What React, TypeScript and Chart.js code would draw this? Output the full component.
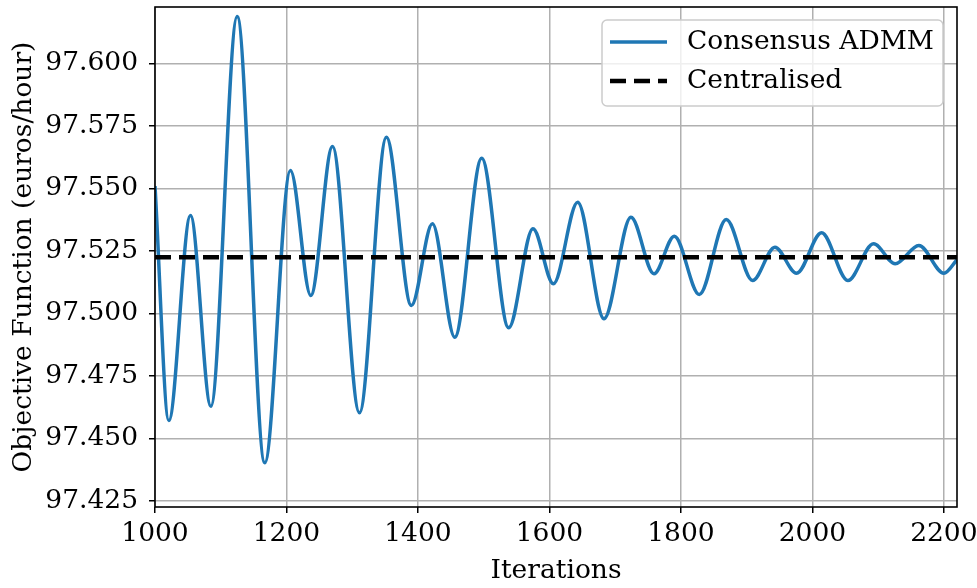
import React, { useEffect, useRef } from "react";
import { Chart, registerables } from "chart.js";

Chart.register(...registerables);

// ---- data ----
const iterations = [
  1000, 1021, 1054, 1085, 1125, 1167, 1206, 1237, 1270, 1311, 1352, 1390,
  1422, 1456, 1497, 1538, 1575, 1606, 1643, 1683, 1724, 1759, 1790, 1828,
  1869, 1909, 1943, 1976, 2014, 2054, 2093, 2126, 2162, 2200, 2220,
];
const admmValues = [
  97.551, 97.4572, 97.5392, 97.4629, 97.6188, 97.4403, 97.5572, 97.5072,
  97.5668, 97.4603, 97.5705, 97.5032, 97.5359, 97.4905, 97.5621, 97.4943,
  97.5339, 97.5119, 97.5445, 97.4979, 97.5385, 97.5159, 97.5309, 97.5076,
  97.5376, 97.5132, 97.5265, 97.5161, 97.5323, 97.5132, 97.5279, 97.5199,
  97.5272, 97.5161, 97.5215,
];
const centralisedX = [1000, 2220];
const centralisedValues = [97.5225, 97.5225];

const xTicks = [1000, 1200, 1400, 1600, 1800, 2000, 2200];
const yTicks = [97.425, 97.45, 97.475, 97.5, 97.525, 97.55, 97.575, 97.6];
const xMin = 1000;
const xMax = 2220;
const yMin = 97.4226;
const yMax = 97.6226;

const seriesLabels = ["Consensus ADMM", "Centralised"];
const xTitle = "Iterations";
const yTitle = "Objective Function (euros/hour)";

const FONT = "'DejaVu Serif'";
const FS = 26.5;
const BLUE = "#1f77b4";
const GRID = "#b0b0b0";

export default function App() {
  const ref = useRef<HTMLCanvasElement>(null);

  useEffect(() => {
    const canvas = ref.current;
    if (!canvas) return;

    const frame = {
      id: "frame",
      afterDatasetsDraw(chart: any) {
        const { ctx, chartArea: a } = chart;
        ctx.save();
        ctx.strokeStyle = "#000";
        ctx.lineWidth = 1.6;
        ctx.strokeRect(a.left, a.top, a.right - a.left, a.bottom - a.top);
        ctx.restore();
      },
    };

    const legendBox = {
      id: "legendBox",
      afterDraw(chart: any) {
        const { ctx, chartArea: a } = chart;
        const w = 341;
        const h = 86;
        const x = a.right - 14 - w;
        const y = a.top + 13;
        ctx.save();
        ctx.beginPath();
        (ctx as any).roundRect(x, y, w, h, 5);
        ctx.fillStyle = "rgba(255,255,255,0.8)";
        ctx.fill();
        ctx.strokeStyle = "#cccccc";
        ctx.lineWidth = 1.5;
        ctx.stroke();

        const rows = [y + 22, y + 61];
        ctx.beginPath();
        ctx.strokeStyle = BLUE;
        ctx.lineWidth = 3.5;
        ctx.moveTo(x + 8, rows[0]);
        ctx.lineTo(x + 65, rows[0]);
        ctx.stroke();
        ctx.beginPath();
        ctx.strokeStyle = "#000";
        ctx.lineWidth = 4.5;
        ctx.setLineDash([16, 8]);
        ctx.moveTo(x + 8, rows[1]);
        ctx.lineTo(x + 65, rows[1]);
        ctx.stroke();
        ctx.setLineDash([]);

        ctx.fillStyle = "#000";
        ctx.font = `${FS}px ${FONT}`;
        ctx.textBaseline = "middle";
        ctx.textAlign = "left";
        ctx.fillText(seriesLabels[0], x + 85, rows[0]);
        ctx.fillText(seriesLabels[1], x + 85, rows[1]);
        ctx.restore();
      },
    };

    const chart = new Chart(canvas, {
      type: "line",
      data: {
        datasets: [
          {
            label: seriesLabels[0],
            data: iterations.map((x, i) => ({ x, y: admmValues[i] })),
            borderColor: BLUE,
            borderWidth: 3.5,
            pointRadius: 0,
            cubicInterpolationMode: "monotone",
            fill: false,
            order: 1,
          },
          {
            label: seriesLabels[1],
            data: centralisedX.map((x, i) => ({ x, y: centralisedValues[i] })),
            borderColor: "#000",
            borderWidth: 4.5,
            borderDash: [16, 8],
            pointRadius: 0,
            fill: false,
            order: 0,
          },
        ],
      },
      options: {
        responsive: false,
        animation: false,
        devicePixelRatio: 1,
        layout: { padding: { left: 0, top: 7, right: 20, bottom: 0 } },
        plugins: {
          legend: { display: false },
          tooltip: { enabled: false },
        },
        scales: {
          x: {
            type: "linear",
            min: xMin,
            max: xMax,
            afterBuildTicks: (s: any) => {
              s.ticks = xTicks.map((v) => ({ value: v }));
            },
            afterFit: (s: any) => {
              s.height = 81;
              s.paddingLeft = 0;
              s.paddingRight = 0;
            },
            grid: {
              color: GRID,
              lineWidth: 1.5,
              tickColor: "#000",
              tickLength: 6,
              tickWidth: 1.5,
            },
            border: { display: false },
            ticks: {
              color: "#000",
              padding: 5,
              maxRotation: 0,
              autoSkip: false,
              font: { family: FONT, size: FS },
              callback: (v: any) => String(v),
            },
            title: {
              display: true,
              text: xTitle,
              color: "#000",
              font: { family: FONT, size: FS },
              padding: { top: 0, bottom: 1 },
            },
          },
          y: {
            type: "linear",
            min: yMin,
            max: yMax,
            afterBuildTicks: (s: any) => {
              s.ticks = yTicks.map((v) => ({ value: v }));
            },
            afterFit: (s: any) => {
              s.width = 155;
              s.paddingTop = 0;
              s.paddingBottom = 0;
            },
            grid: {
              color: GRID,
              lineWidth: 1.5,
              tickColor: "#000",
              tickLength: 6,
              tickWidth: 1.5,
            },
            border: { display: false },
            ticks: {
              color: "#000",
              padding: 11,
              autoSkip: false,
              font: { family: FONT, size: FS },
              callback: (v: any) => Number(v).toFixed(3),
            },
            title: {
              display: true,
              text: yTitle,
              color: "#000",
              font: { family: FONT, size: FS },
              padding: { top: 8, bottom: 0 },
            },
          },
        },
      },
      plugins: [frame, legendBox],
    } as any);

    return () => chart.destroy();
  }, []);

  return (
    <div style={{ position: "absolute", left: 0, top: 0, width: 977, height: 588, background: "#fff" }}>
      <canvas ref={ref} width={977} height={588} style={{ display: "block" }} />
    </div>
  );
}
